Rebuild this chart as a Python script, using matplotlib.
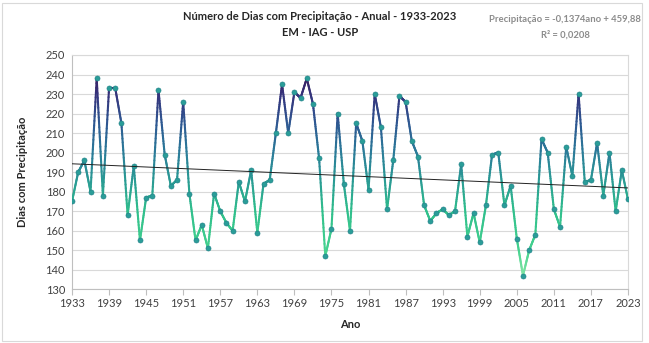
import numpy as np
import matplotlib
matplotlib.use("Agg")
import matplotlib.pyplot as plt
from matplotlib.collections import LineCollection
from matplotlib.colors import LinearSegmentedColormap, Normalize
from matplotlib.patches import Rectangle

plt.rcParams['font.family'] = ['Lato', 'DejaVu Sans']

# Annual number of days with precipitation, 1933-2023
years = list(range(1933, 2024))
days = [
    175, 190, 196, 180, 238, 178, 233, 233, 215, 168,  # 1933-1942
    193, 155, 177, 178, 232, 199, 183, 186, 226, 179,  # 1943-1952
    155, 163, 151, 179, 170, 164, 160, 185, 175, 191,  # 1953-1962
    159, 184, 186, 210, 235, 210, 231, 228, 238, 225,  # 1963-1972
    197, 147, 161, 220, 184, 160, 215, 206, 181, 230,  # 1973-1982
    213, 171, 196, 229, 226, 206, 198, 173, 165, 169,  # 1983-1992
    171, 168, 170, 194, 157, 169, 154, 173, 199, 200,  # 1993-2002
    173, 183, 156, 137, 150, 158, 207, 200, 171, 162,  # 2003-2012
    203, 188, 230, 185, 186, 205, 178, 200, 170, 191,  # 2013-2022
    176,                                               # 2023
]

# Linear trend as stated in the equation label
trend_slope = -0.1374
trend_intercept = 459.88

x_ticks = list(range(1933, 2024, 6))
y_ticks = list(range(130, 251, 10))

title_lines = ["Número de Dias com Precipitação - Anual - 1933-2023", "EM - IAG - USP"]
equation_lines = ["Precipitação = -0,1374ano + 459,88", "R² = 0,0208"]
x_label = "Ano"
y_label = "Dias com Precipitação"

W, H = 649, 343
fig = plt.figure(figsize=(W / 100, H / 100), dpi=100)
fig.patch.set_facecolor("white")

# chart border
fig.patches.append(Rectangle((2 / W, 2 / H), 640 / W, 338 / H, transform=fig.transFigure,
                             fill=False, edgecolor="#d9d9d9", linewidth=0.8))

ax = fig.add_axes([72 / W, (H - 289.3) / H, 556 / W, 234.3 / H])
ax.set_xlim(1933, 2023)
ax.set_ylim(130, 250)

# gridlines
ax.set_yticks(y_ticks)
ax.yaxis.grid(True, color="#d9d9d9", linewidth=0.8)
ax.set_axisbelow(True)

# line coloured by height (green low, deep purple high)
stops = [(130, "#a4eeb6"), (137, "#84e6a6"), (150, "#45d28f"), (170, "#30bf8c"),
         (185, "#2a9c94"), (200, "#2b7c99"), (215, "#2e5892"), (230, "#35327b"),
         (240, "#3a1d5e"), (250, "#3a1656")]
lo, hi = stops[0][0], stops[-1][0]
cmap = LinearSegmentedColormap.from_list(
    "prec", [((v - lo) / (hi - lo), c) for v, c in stops])
norm = Normalize(lo, hi)

xs = np.asarray(years, dtype=float)
ys = np.asarray(days, dtype=float)
segs, vals = [], []
n_sub = 24
for i in range(len(xs) - 1):
    t = np.linspace(0, 1, n_sub + 1)
    px = xs[i] + (xs[i + 1] - xs[i]) * t
    py = ys[i] + (ys[i + 1] - ys[i]) * t
    for k in range(n_sub):
        segs.append([(px[k], py[k]), (px[k + 1], py[k + 1])])
        vals.append(0.5 * (py[k] + py[k + 1]))
lc = LineCollection(segs, cmap=cmap, norm=norm, linewidths=1.5, capstyle="round", zorder=3)
lc.set_array(np.asarray(vals))
ax.add_collection(lc)

# markers
ax.plot(years, days, linestyle="none", marker="o", markersize=3.6,
        markerfacecolor="#2a9d98", markeredgecolor="#23858a", markeredgewidth=0.5, zorder=4)

# trend line
tx = np.array([years[0], years[-1]], dtype=float)
ax.plot(tx, trend_slope * tx + trend_intercept, color="#222222", linewidth=0.7, zorder=5)

# axes styling
for side in ("top", "right"):
    ax.spines[side].set_color("#d9d9d9")
    ax.spines[side].set_linewidth(0.8)
for side in ("left", "bottom"):
    ax.spines[side].set_color("#bfbfbf")
    ax.spines[side].set_linewidth(0.8)

ax.set_xticks(x_ticks)
ax.tick_params(axis="x", length=4, width=0.8, color="#bfbfbf", labelsize=8,
               labelcolor="#404040", pad=2)
ax.tick_params(axis="y", length=0, labelsize=8, labelcolor="#404040", pad=5)

ax.set_xlabel(x_label, fontsize=8, fontweight="bold", color="#262626")
ax.xaxis.set_label_coords(0.5, -(325 - 289.3) / 234.3 + 0.0, transform=ax.transAxes)
ax.xaxis.label.set_va("center")
ax.set_ylabel(y_label, fontsize=8, fontweight="bold", color="#262626")
ax.yaxis.set_label_coords(-(72 - 22) / 556, 0.5, transform=ax.transAxes)
ax.yaxis.label.set_va("center")

fig.text(320 / W, 1 - 17 / H, title_lines[0], ha="center", va="center", fontsize=8,
         fontweight="bold", color="#262626")
fig.text(320 / W, 1 - 32 / H, title_lines[1], ha="center", va="center", fontsize=8,
         fontweight="bold", color="#262626")
fig.text(565 / W, 1 - 20 / H, equation_lines[0], ha="center", va="center", fontsize=6.8,
         fontweight="bold", color="#8c8c8c")
fig.text(565 / W, 1 - 35 / H, equation_lines[1], ha="center", va="center", fontsize=6.8,
         fontweight="bold", color="#8c8c8c")

fig.savefig("out.png", dpi=100, facecolor="white")
